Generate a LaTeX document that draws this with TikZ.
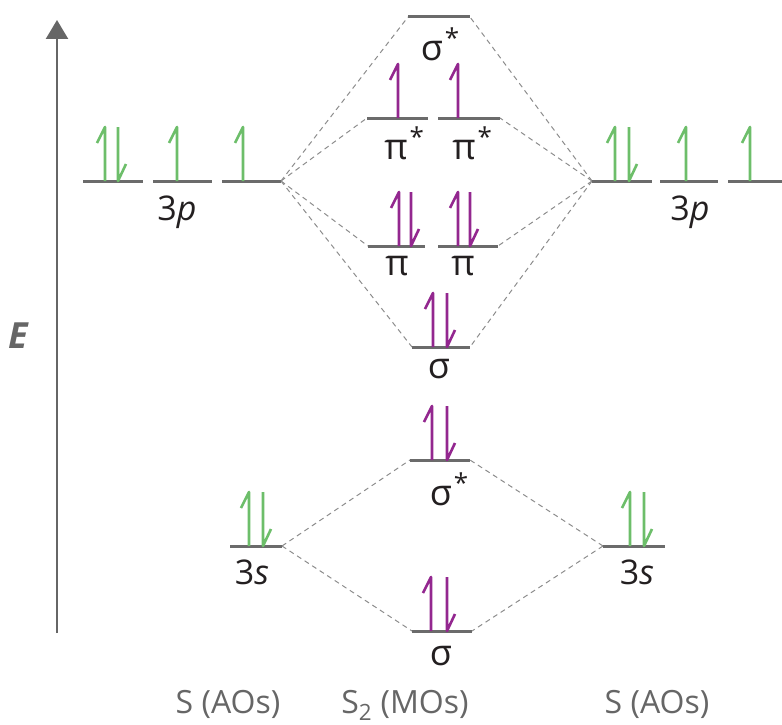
\documentclass[tikz,border=0pt]{standalone}
\usepackage{fontspec}
\setmainfont{Open Sans}
\usetikzlibrary{arrows.meta}
\definecolor{aog}{HTML}{6DBE6A}
\definecolor{mop}{HTML}{93278F}
\definecolor{lvc}{HTML}{6B6B6B}
\definecolor{dsh}{HTML}{8C8C8C}
\definecolor{txt}{HTML}{231F20}
\definecolor{axc}{HTML}{666666}
\newcommand{\astx}{\rlap{\kern0.05em\raisebox{0.36em}{\fontsize{26}{26}\selectfont *}}}
\begin{document}
\begin{tikzpicture}[x=1pt,y=-1pt,
  lvl/.style={draw=lvc,line width=3pt},
  conn/.style={draw=dsh,line width=1pt,dash pattern=on 5pt off 4pt},
  elec/.style={line width=2.6pt,line join=round},
  lab/.style={anchor=base,text=txt,font=\fontsize{34}{38}\selectfont,inner sep=0pt},
  glab/.style={anchor=base,text=txt,font=\fontsize{36}{40}\selectfont,inner sep=0pt},
  foot/.style={anchor=base,text=axc,font=\fontsize{32}{36}\selectfont,inner sep=0pt},
  upe/.pic={\path[elec,pic actions] (0,0) -- (0,-54) -- (-8,-38);},
  dne/.pic={\path[elec,pic actions] (0,-54) -- (0,0) -- (8,-17);}
]
\useasboundingbox (0,0) rectangle (782,725);
% energy axis
\coordinate (axb) at (57,633);
\coordinate (axt) at (57,20);
\draw[axc,line width=2.5pt,-{Triangle[length=19pt,width=22pt]}] (axb) -- (axt);
\node[font=\fontsize{36}{40}\selectfont\bfseries\itshape,text=axc,inner sep=0pt] (E) at (18,336) {E};
% level end points
\coordinate (L1a) at (83,181);  \coordinate (L1b) at (143,181);
\coordinate (L2a) at (153,181); \coordinate (L2b) at (212,181);
\coordinate (L3a) at (222,181); \coordinate (L3b) at (281,181);
\coordinate (R1a) at (592,181); \coordinate (R1b) at (652,181);
\coordinate (R2a) at (660,181); \coordinate (R2b) at (718,181);
\coordinate (R3a) at (728,181); \coordinate (R3b) at (782,181);
\coordinate (LSa) at (230,546); \coordinate (LSb) at (282,546);
\coordinate (RSa) at (603,546); \coordinate (RSb) at (665,546);
\coordinate (SSa) at (412,631); \coordinate (SSb) at (472,631);
\coordinate (SXa) at (410,460); \coordinate (SXb) at (470,460);
\coordinate (PSa) at (412,347); \coordinate (PSb) at (470,347);
\coordinate (PAa) at (368,246); \coordinate (PAb) at (425,246);
\coordinate (PBa) at (438,246); \coordinate (PBb) at (498,246);
\coordinate (QAa) at (367,118); \coordinate (QAb) at (428,118);
\coordinate (QBa) at (438,118); \coordinate (QBb) at (500,118);
\coordinate (TXa) at (408,17);  \coordinate (TXb) at (470,17);
% correlation lines
\draw[conn] (L3b) -- (TXa);
\draw[conn] (L3b) -- (QAa);
\draw[conn] (L3b) -- (PAa);
\draw[conn] (L3b) -- (PSa);
\draw[conn] (R1a) -- (TXb);
\draw[conn] (R1a) -- (QBb);
\draw[conn] (R1a) -- (PBb);
\draw[conn] (R1a) -- (PSb);
\draw[conn] (LSb) -- (SXa);
\draw[conn] (LSb) -- (SSa);
\draw[conn] (RSa) -- (SXb);
\draw[conn] (RSa) -- (SSb);
% levels
\foreach \a/\b in {L1a/L1b,L2a/L2b,L3a/L3b,R1a/R1b,R2a/R2b,R3a/R3b,LSa/LSb,RSa/RSb,SSa/SSb,SXa/SXb,PSa/PSb,PAa/PAb,PBa/PBb,QAa/QAb,QBa/QBb,TXa/TXb}
  \draw[lvl] (\a) -- (\b);
% electrons: atoms
\pic[draw=aog] at (105,181) {upe};
\pic[draw=aog] at (118,181) {dne};
\pic[draw=aog] at (177,181) {upe};
\pic[draw=aog] at (243,181) {upe};
\pic[draw=aog] at (615,181) {upe};
\pic[draw=aog] at (629,181) {dne};
\pic[draw=aog] at (686,181) {upe};
\pic[draw=aog] at (750,181) {upe};
\pic[draw=aog] at (249,546) {upe};
\pic[draw=aog] at (263,546) {dne};
\pic[draw=aog] at (630,546) {upe};
\pic[draw=aog] at (644,546) {dne};
% electrons: molecule
\pic[draw=mop] at (431,631) {upe};
\pic[draw=mop] at (447,631) {dne};
\pic[draw=mop] at (432,460) {upe};
\pic[draw=mop] at (447,460) {dne};
\pic[draw=mop] at (433,347) {upe};
\pic[draw=mop] at (447,347) {dne};
\pic[draw=mop] at (399,246) {upe};
\pic[draw=mop] at (411,246) {dne};
\pic[draw=mop] at (458,246) {upe};
\pic[draw=mop] at (470,246) {dne};
\pic[draw=mop] at (398,118) {upe};
\pic[draw=mop] at (458,118) {upe};
% labels
\node[lab] (l3p) at (177,220) {3\textit{p}};
\node[lab] (r3p) at (690,220) {3\textit{p}};
\node[lab] (l3s) at (252,584) {3\textit{s}};
\node[lab] (r3s) at (637,584) {3\textit{s}};
\node[glab] (tsx) at (432,60) {σ\astx};
\node[glab] (qa) at (396,159) {π\astx};
\node[glab] (qb) at (464,159) {π\astx};
\node[glab] (pa) at (397,275) {π};
\node[glab] (pb) at (463,275) {π};
\node[glab] (ps) at (439,378) {σ};
\node[glab] (sx) at (441,505) {σ\astx};
\node[glab] (ss) at (441,665) {σ};
\node[foot] (f1) at (228,713) {S (AOs)};
\node[foot] (f2) at (405,713) {S\textsubscript{2} (MOs)};
\node[foot] (f3) at (657,713) {S (AOs)};
\end{tikzpicture}
\end{document}
